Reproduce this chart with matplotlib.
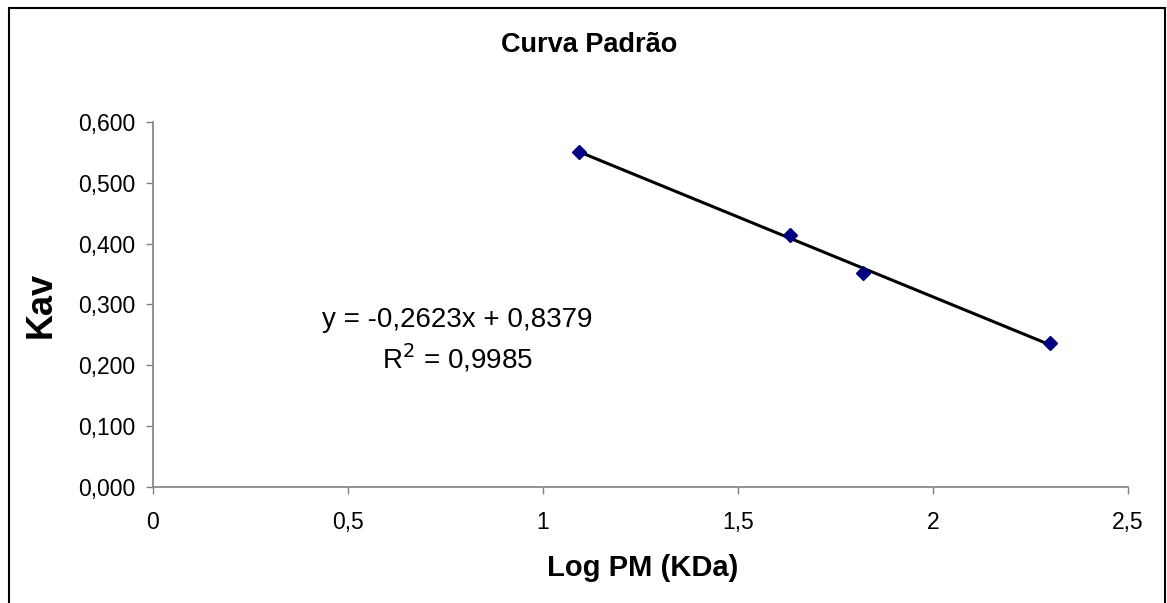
import numpy as np
import matplotlib.pyplot as plt
from matplotlib.patches import Rectangle
from matplotlib.ticker import FuncFormatter

plt.rcParams['font.family'] = ['Liberation Sans', 'DejaVu Sans']

# ====== dados ======
log_pm = [1.093, 1.633, 1.820, 2.301]
kav = [0.551, 0.415, 0.351, 0.236]
eq_text = "y = -0,2623x + 0,8379\nR$^2$ = 0,9985"

x_ticks = [0, 0.5, 1, 1.5, 2, 2.5]
y_ticks = [0, 0.1, 0.2, 0.3, 0.4, 0.5, 0.6]

fig = plt.figure(figsize=(11.67, 6.03), dpi=100)
ax = fig.add_axes([0.1311, 0.1924, 0.8355, 0.6053])

# linha de tendência
a, b = np.polyfit(log_pm, kav, 1)
xs = np.array([min(log_pm), max(log_pm)])
ax.plot(xs, a * xs + b, color='black', lw=2.2, zorder=2)
ax.plot(log_pm, kav, 'D', color='#000080', ms=7, zorder=3)

ax.set_xlim(0, 2.5)
ax.set_ylim(0, 0.6)
ax.set_xticks(x_ticks)
ax.set_yticks(y_ticks)
ax.xaxis.set_major_formatter(FuncFormatter(lambda v, p: f"{v:g}".replace('.', ',')))
ax.yaxis.set_major_formatter(FuncFormatter(lambda v, p: f"{v:.3f}".replace('.', ',')))
ax.tick_params(direction='out', length=5, width=1, color='#808080', labelsize=16.5)
ax.tick_params(axis='x', pad=12)
ax.tick_params(axis='y', pad=8)

for s in ['top', 'right']:
    ax.spines[s].set_visible(False)
for s in ['left', 'bottom']:
    ax.spines[s].set_color('#808080')
    ax.spines[s].set_linewidth(1.2)

ax.text(0.78, 0.240, eq_text, ha='center', va='center', fontsize=20,
        linespacing=1.3)

fig.text(0.5047, 0.925, "Curva Padrão", ha='center', va='center',
         fontsize=19.5, fontweight='bold')
fig.text(0.551, 0.058, "Log PM (KDa)", ha='center', va='center',
         fontsize=21, fontweight='bold')
fig.text(0.035, 0.494, "Kav", ha='center', va='center', rotation=90,
         fontsize=26, fontweight='bold')

# moldura
fig.patches.append(Rectangle((9 / 1167, -0.01), (1165 - 9) / 1167, 1 - 8 / 603 + 0.01,
                             transform=fig.transFigure, fill=False,
                             edgecolor='black', lw=1.5))

fig.savefig('out.png', dpi=100)
